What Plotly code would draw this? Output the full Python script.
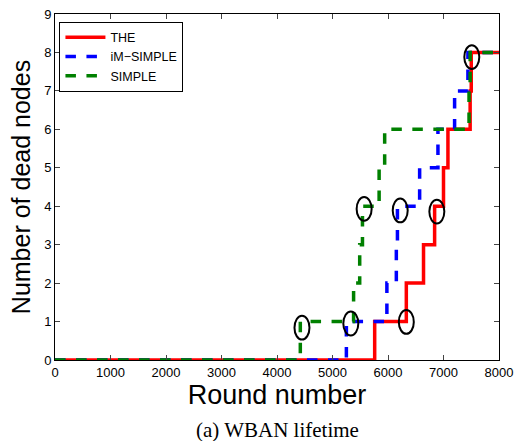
import plotly.graph_objects as go

# Step data (round at which each count of dead nodes is reached)
the_rounds = [0, 5760, 6330, 6640, 6840, 7000, 7080, 7480, 7500, 8000]
the_dead = [0, 1, 2, 3, 4, 5, 6, 7, 8, 8]

im_rounds = [0, 5250, 5980, 6150, 6170, 6570, 6900, 7200, 7440, 8000]
im_dead = [0, 1, 2, 3, 4, 5, 6, 7, 8, 8]

simple_rounds = [0, 4420, 5380, 5490, 5540, 5840, 5940, 7460, 7480, 8000]
simple_dead = [0, 1, 2, 3, 4, 5, 6, 7, 8, 8]

# highlighted points (circles)
circle_x = [4450, 5330, 6330, 5570, 6220, 6880, 7510]
circle_y = [0.84, 0.95, 0.99, 3.93, 3.89, 3.86, 7.88]

x_ticks = [0, 1000, 2000, 3000, 4000, 5000, 6000, 7000, 8000]
y_ticks = [0, 1, 2, 3, 4, 5, 6, 7, 8, 9]

fig = go.Figure()
fig.add_trace(go.Scatter(x=the_rounds, y=the_dead, mode="lines", name="THE",
                         line=dict(color="#ff0000", width=3.5, shape="hv")))
fig.add_trace(go.Scatter(x=im_rounds, y=im_dead, mode="lines", name="iM\u2212SIMPLE",
                         line=dict(color="#0000ff", width=3.5, shape="hv", dash="dash")))
fig.add_trace(go.Scatter(x=simple_rounds, y=simple_dead, mode="lines", name="SIMPLE",
                         line=dict(color="#008000", width=3.5, shape="hv", dash="dash")))

rx, ry = 135, 0.31
shapes = []
for cx, cy in zip(circle_x, circle_y):
    shapes.append(dict(type="circle", xref="x", yref="y",
                       x0=cx - rx, x1=cx + rx, y0=cy - ry, y1=cy + ry,
                       line=dict(color="black", width=2)))

fig.update_layout(
    template="none",
    width=516, height=441,
    margin=dict(l=55, r=17, t=14, b=81),
    paper_bgcolor="white", plot_bgcolor="white",
    font=dict(family="Liberation Sans, Arial", color="black", size=13),
    showlegend=True,
    legend=dict(x=0.01, y=0.978, xanchor="left", yanchor="top",
                bordercolor="black", borderwidth=1, bgcolor="white",
                font=dict(size=12.5), tracegroupgap=0, itemwidth=40),
    shapes=shapes,
    annotations=[dict(text="(a) WBAN lifetime", xref="paper", yref="paper",
                      x=0.5, y=-0.202, xanchor="center", yanchor="middle", showarrow=False,
                      font=dict(family="Liberation Serif, Times New Roman", size=21))],
)
fig.update_xaxes(range=[0, 8000], tickvals=x_ticks, ticks="inside", ticklen=5,
                 showline=True, linecolor="black", linewidth=1, mirror="ticks",
                 showgrid=False, zeroline=False, automargin=False,
                 title=dict(text="Round number", font=dict(size=27), standoff=4),
                 tickfont=dict(size=13))
fig.update_yaxes(range=[0, 9], tickvals=y_ticks, ticks="inside", ticklen=5,
                 showline=True, linecolor="black", linewidth=1, mirror="ticks",
                 showgrid=False, zeroline=False, automargin=False,
                 title=dict(text="Number of dead nodes", font=dict(size=25), standoff=6),
                 tickfont=dict(size=13))

fig.write_html("out.html")
